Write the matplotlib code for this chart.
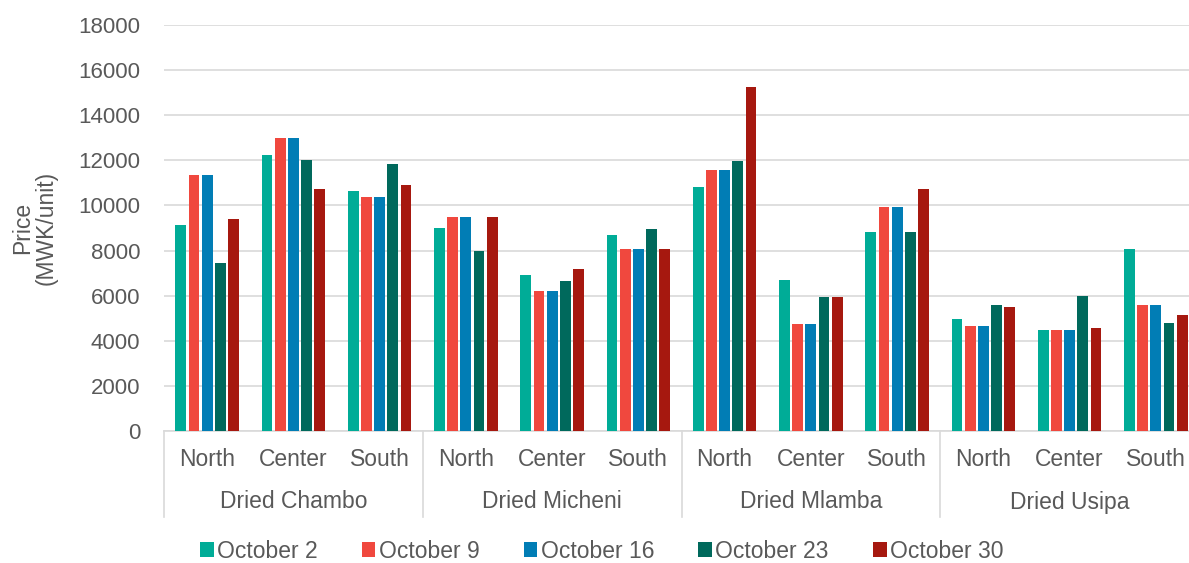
import matplotlib.pyplot as plt
import numpy as np
from matplotlib.lines import Line2D
from matplotlib.patches import Patch

plt.rcParams['font.family'] = ['Liberation Sans', 'DejaVu Sans']

products = ['Dried Chambo', 'Dried Micheni', 'Dried Mlamba', 'Dried Usipa']
regions = ['North', 'Center', 'South']
weeks = ['October 2', 'October 9', 'October 16', 'October 23', 'October 30']
colors = ['#00AC97', '#F0483E', '#017DB5', '#00695C', '#A6180F']

# each list: Chambo N/C/S, Micheni N/C/S, Mlamba N/C/S, Usipa N/C/S
oct2 = [9150, 12240, 10620, 8980, 6900, 8680, 10830, 6700, 8840, 4980, 4470, 8070]
oct9 = [11350, 13000, 10380, 9470, 6210, 8090, 11590, 4750, 9950, 4650, 4470, 5590]
oct16 = [11350, 13000, 10380, 9470, 6210, 8090, 11590, 4750, 9950, 4650, 4470, 5590]
oct23 = [7430, 12000, 11840, 7990, 6670, 8960, 11960, 5950, 8810, 5600, 5970, 4790]
oct30 = [9420, 10750, 10900, 9470, 7190, 8070, 15240, 5950, 10730, 5480, 4560, 5140]
series = [oct2, oct9, oct16, oct23, oct30]

W, H = 1189, 563
fig = plt.figure(figsize=(W / 100, H / 100), dpi=100)
ax = fig.add_axes([164 / W, (H - 431) / H, 1035 / W, 406 / H])

x = np.arange(len(products) * len(regions))
pitch = 0.153
for j, (vals, c) in enumerate(zip(series, colors)):
    ax.bar(x + (j - 2) * pitch, vals, width=0.125, color=c, zorder=3)

ax.set_xlim(-0.5, len(x) - 0.5)
ax.set_ylim(0, 18000)
ax.set_yticks(np.arange(0, 18001, 2000))
ax.tick_params(axis='y', length=0, labelsize=16, labelcolor='#595959', pad=17)
ax.set_xticks([])
ax.grid(axis='y', color='#d9d9d9', linewidth=1.2, zorder=0)
for s in ['left', 'right', 'top']:
    ax.spines[s].set_visible(False)
ax.spines['bottom'].set_color('#d9d9d9')
ax.spines['bottom'].set_linewidth(1.2)

ax.set_ylabel('Price\n(MWK/unit)', fontsize=16.5, color='#595959', labelpad=15,
              linespacing=1.0)

# two level category axis
trans = ax.get_xaxis_transform()
for i in x:
    ax.text(i, -28 / 406, regions[i % 3], transform=trans, ha='center', va='center',
            fontsize=16.5, color='#595959')
for g, name in enumerate(products):
    ax.text(g * 3 + 1, -71 / 406, name, transform=trans, ha='center', va='center',
            fontsize=16.5, color='#595959')
for b in np.arange(-0.5, len(x), 3):
    ax.add_line(Line2D([b, b], [0, -86 / 406], transform=trans, color='#d9d9d9',
                       linewidth=1.2, clip_on=False))

handles = [Patch(facecolor=c, edgecolor='none') for c in colors]
fig.legend(handles, weeks, loc='center', bbox_to_anchor=(0.506, (H - 551) / H), ncol=5,
           frameon=False, fontsize=16.5, labelcolor='#595959', handlelength=0.6,
           handleheight=0.6, handletextpad=0.15, columnspacing=1.92)

fig.savefig('out.png', dpi=100)
